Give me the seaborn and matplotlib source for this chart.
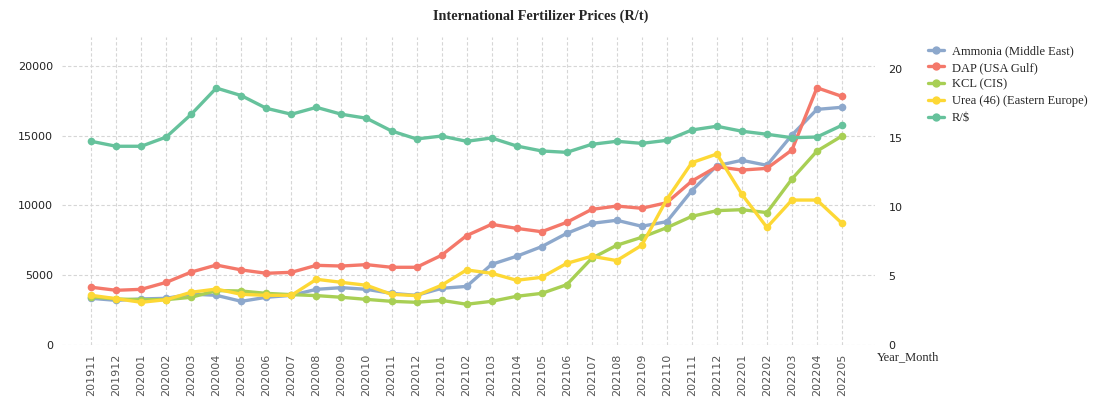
import pandas as pd
import seaborn as sns
import matplotlib.pyplot as plt
from matplotlib.lines import Line2D

# data
months = ["201911", "201912", "202001", "202002", "202003", "202004", "202005", "202006",
          "202007", "202008", "202009", "202010", "202011", "202012", "202101", "202102",
          "202103", "202104", "202105", "202106", "202107", "202108", "202109", "202110",
          "202111", "202112", "202201", "202202", "202203", "202204", "202205"]

ammonia = [3345, 3200, 3300, 3345, 3650, 3560, 3130, 3420, 3560, 3990, 4110, 3990, 3700, 3560,
           4060, 4200, 5780, 6360, 7050, 8000, 8720, 8940, 8510, 8840, 11060, 12850, 13240,
           12880, 15050, 16890, 17040]
dap = [4140, 3920, 3990, 4490, 5230, 5730, 5380, 5140, 5210, 5710, 5660, 5760, 5570, 5570,
       6430, 7840, 8650, 8360, 8120, 8790, 9720, 9960, 9800, 10200, 11750, 12780, 12540,
       12660, 13980, 18440, 17820]
kcl = [3450, 3300, 3250, 3250, 3420, 3900, 3870, 3700, 3610, 3540, 3420, 3270, 3130, 3060,
       3200, 2920, 3130, 3490, 3700, 4320, 6210, 7150, 7720, 8410, 9220, 9630, 9700, 9490,
       11900, 13900, 14980]
urea = [3560, 3320, 3060, 3250, 3780, 4010, 3630, 3560, 3560, 4710, 4490, 4280, 3630, 3540,
        4280, 5380, 5140, 4640, 4850, 5850, 6360, 6050, 7150, 10440, 13070, 13690, 10800,
        8430, 10390, 10390, 8720]
rand_usd = [14.76, 14.40, 14.40, 15.07, 16.72, 18.62, 18.07, 17.15, 16.72, 17.22, 16.72,
            16.43, 15.51, 14.93, 15.14, 14.76, 15.00, 14.42, 14.06, 13.96, 14.54, 14.76,
            14.61, 14.83, 15.58, 15.85, 15.49, 15.27, 15.02, 15.07, 15.92]

names = ["Ammonia (Middle East)", "DAP (USA Gulf)", "KCL (CIS)",
         "Urea (46) (Eastern Europe)", "R/$"]
colors = ["#8DA8CC", "#F4786A", "#A8CF54", "#FDD835", "#66C29C"]

df = pd.DataFrame({"Year_Month": months * 4,
                   "Price": ammonia + dap + kcl + urea,
                   "Product": sum([[n] * len(months) for n in names[:4]], [])})
fx = pd.DataFrame({"Year_Month": months, "R/$": rand_usd})

sns.set_style("white")
plt.rcParams["font.family"] = ["DejaVu Sans"]

fig = plt.figure(figsize=(11.07, 3.98), dpi=100)
ax = fig.add_axes([0.0557, 0.1332, 0.7343, 0.7746])
ax2 = ax.twinx()

pal = dict(zip(names, colors))
sns.lineplot(data=df, x="Year_Month", y="Price", hue="Product", palette=pal, ax=ax,
             marker="o", markersize=5.5, markeredgewidth=0, linewidth=2.4, legend=False)
sns.lineplot(data=fx, x="Year_Month", y="R/$", color=colors[4], ax=ax2,
             marker="o", markersize=5.5, markeredgewidth=0, linewidth=2.4, legend=False)

ax.set_xlim(-1.18, 31.3)
ax.set_ylim(0, 22100)
ax2.set_ylim(0, 22.34)
ax.set_yticks([0, 5000, 10000, 15000, 20000])
ax2.set_yticks([0, 5, 10, 15, 20])

ax.grid(True, linestyle=(0, (3, 2)), color="#d6d6d6", linewidth=0.8)
ax2.grid(False)
ax.set_axisbelow(True)
for a in (ax, ax2):
    for s in a.spines.values():
        s.set_visible(False)
    a.set_xlabel("")
    a.set_ylabel("")
ax.tick_params(axis="x", length=0, labelrotation=90, labelsize=8, labelcolor="#555555", pad=6)
ax.tick_params(axis="y", length=0, labelsize=8, labelcolor="#222222", pad=6)
ax2.tick_params(axis="y", length=0, labelsize=8, labelcolor="#222222", pad=10)

fig.suptitle("International Fertilizer Prices (R/t)", x=0.488, y=0.975,
             fontsize=10.3, fontweight="bold", family="Liberation Serif")
fig.text(0.792, 0.103, "Year_Month", fontsize=9, family="Liberation Serif", va="center")

handles = [Line2D([0], [0], color=c, marker="o", markersize=6, markeredgewidth=0, linewidth=2.4)
           for c in colors]
leg = fig.legend(handles, names, loc="upper left", bbox_to_anchor=(0.828, 0.915),
                 frameon=False, prop={"family": "Liberation Serif", "size": 9},
                 handlelength=1.3, handletextpad=0.6, labelspacing=0.38)

fig.savefig("out.png", dpi=100)
